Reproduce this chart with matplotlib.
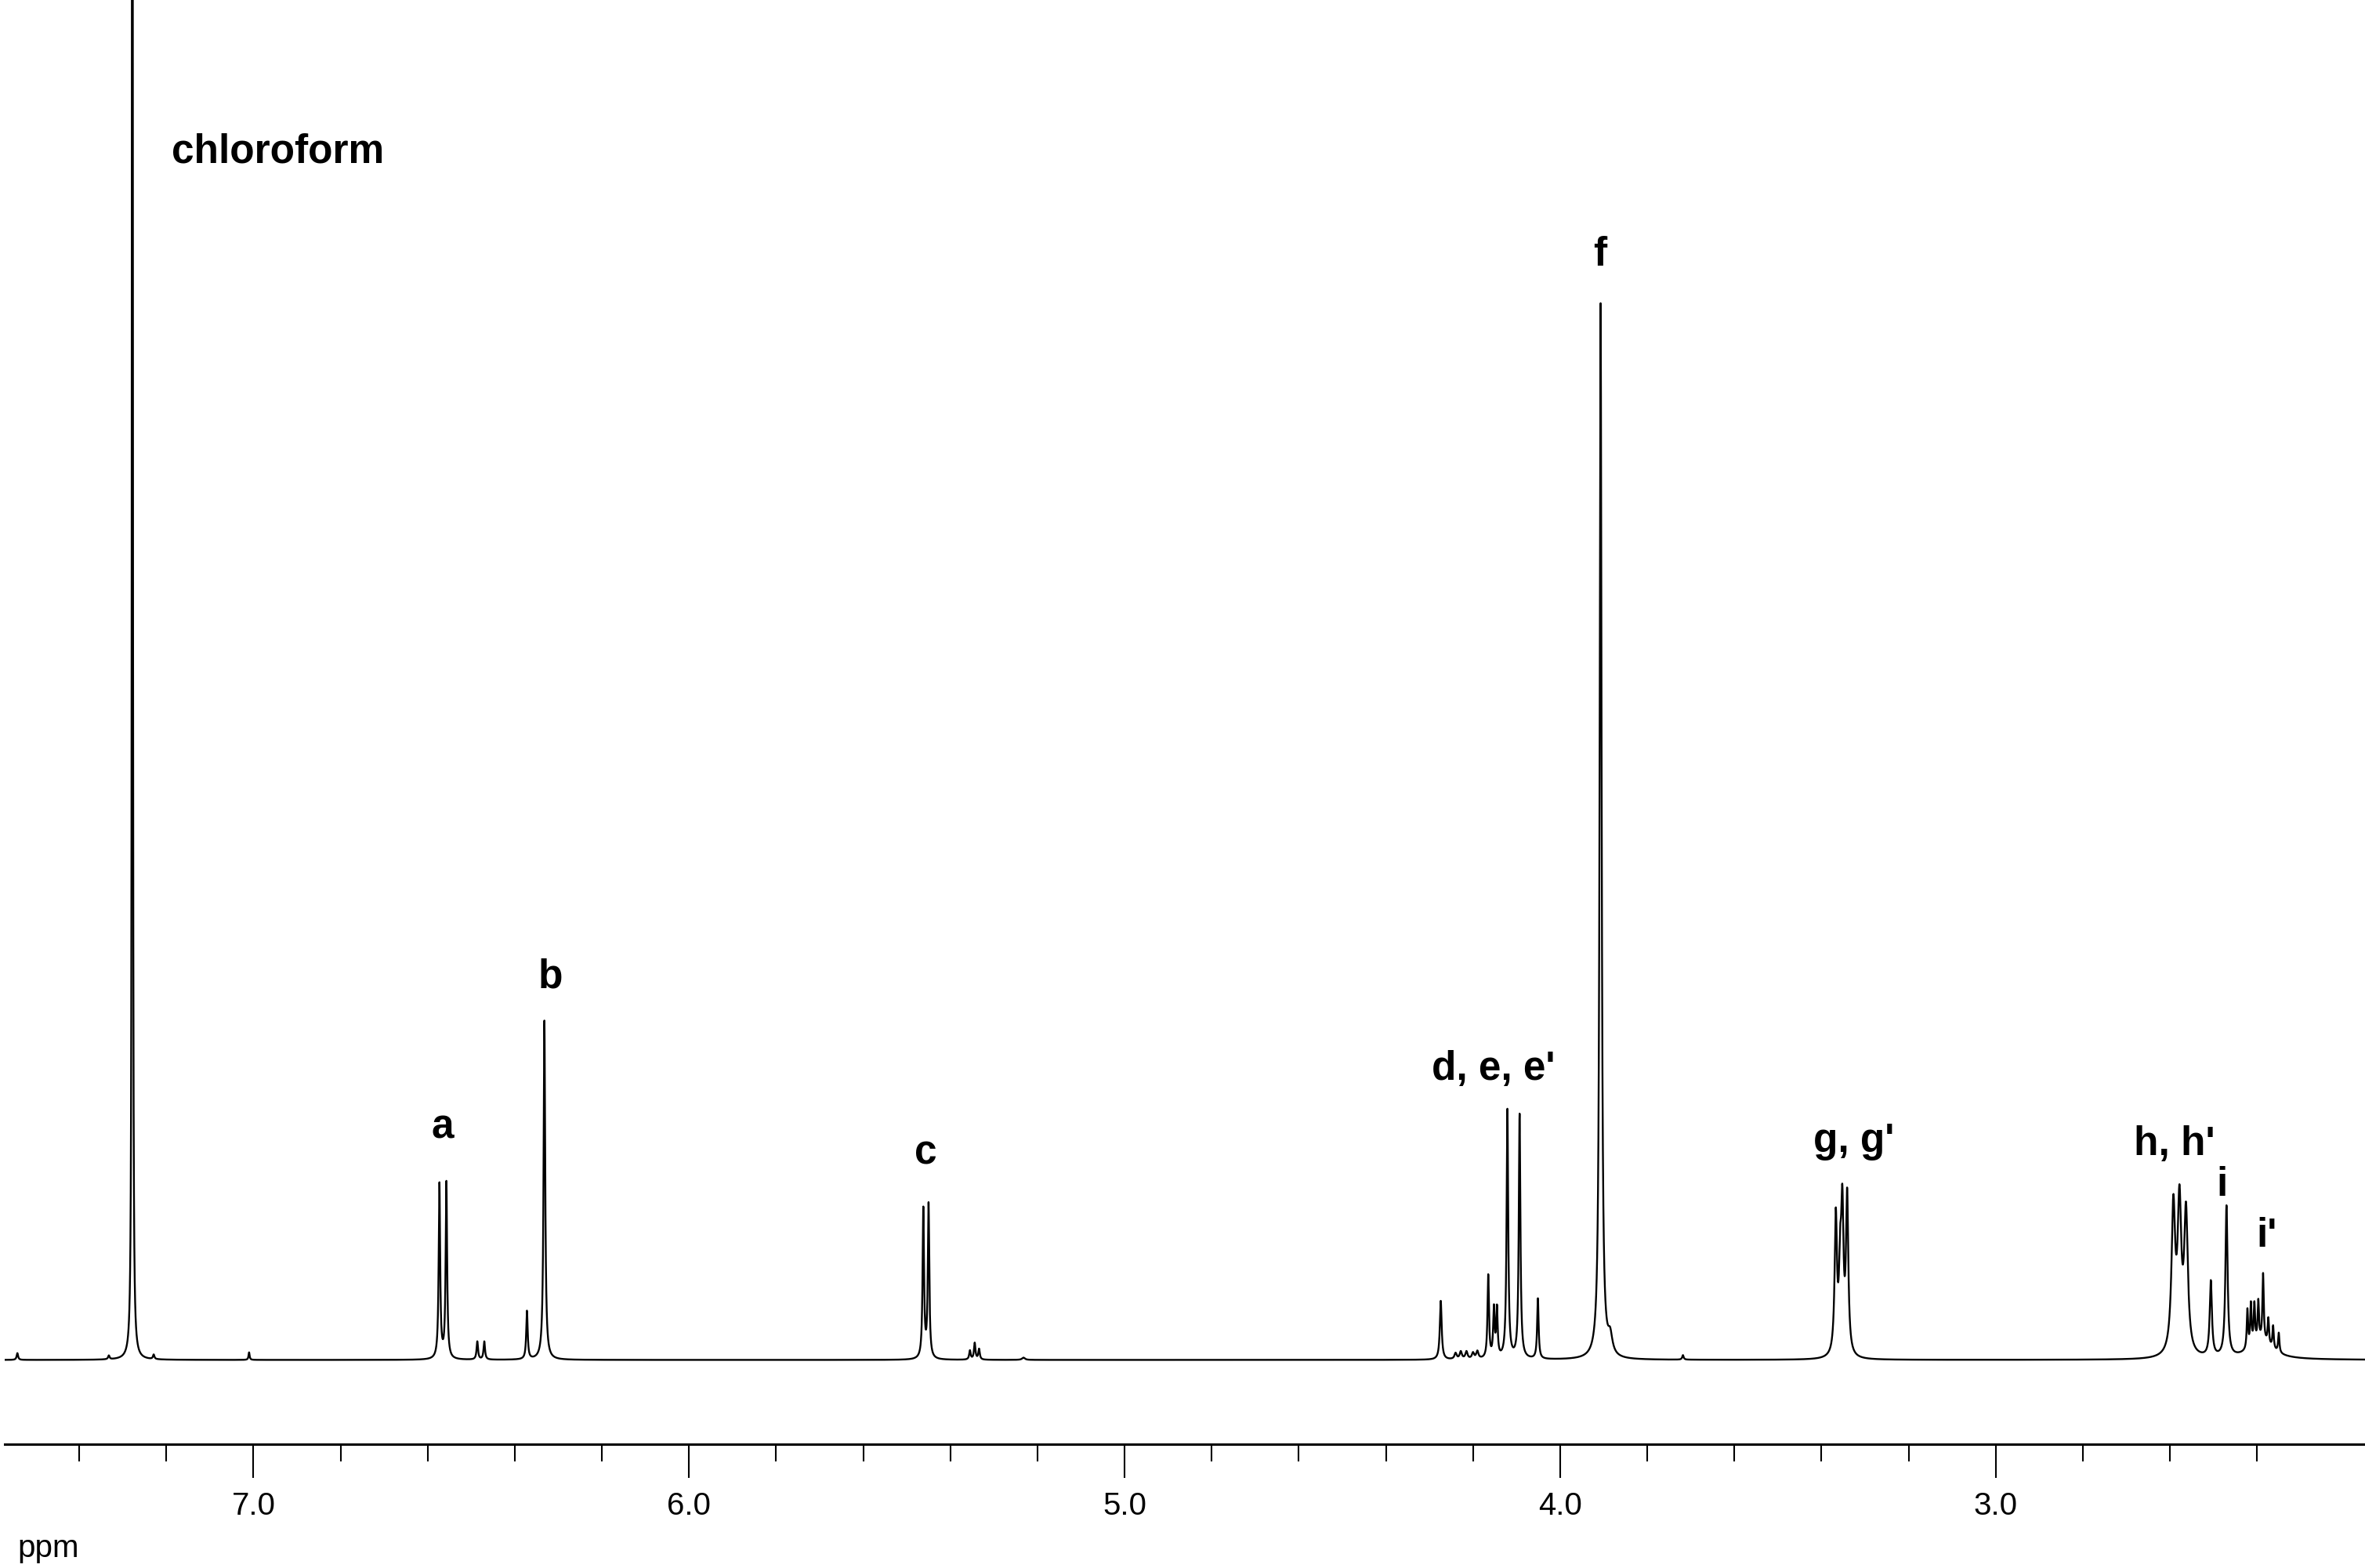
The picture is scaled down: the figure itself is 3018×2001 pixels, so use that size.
import numpy as np
import matplotlib
matplotlib.use("Agg")
import matplotlib.pyplot as plt

plt.rcParams['font.family'] = ['Liberation Sans', 'DejaVu Sans']

# ---------------------- peak table ----------------------
# shift (ppm), height (baseline = 0), half width at half height (ppm)
solvent_ppm = [7.542, 7.332, 7.278, 7.229, 7.010]
solvent_h = [4.5, 2.5, 2500, 3.0, 5.0]
solvent_w = [0.002, 0.002, 0.0008, 0.002, 0.0015]

vinyl_ppm = [6.573, 6.557, 6.486, 6.470, 6.372, 6.332, 5.462, 5.450, 5.355, 5.344, 5.334, 5.232]
vinyl_h = [116, 117, 12, 12, 32, 225, 99, 102, 6, 11, 7, 1.5]
vinyl_w = [0.002, 0.002, 0.002, 0.002, 0.002, 0.0022, 0.002, 0.002, 0.002, 0.002, 0.002, 0.004]

ester_ppm = [4.274, 4.240, 4.228, 4.215, 4.200, 4.190, 4.165, 4.152, 4.145,
             4.121, 4.093, 4.051, 3.907, 3.885, 3.718]
ester_h = [39, 4, 5, 5, 4, 5, 55, 32, 32, 165, 162, 40, 700, 12, 3]
ester_w = [0.0025, 0.003, 0.003, 0.003, 0.003, 0.003, 0.002, 0.002, 0.002,
           0.0022, 0.0022, 0.002, 0.0026, 0.006, 0.002]

alkyl_ppm = [3.367, 3.357, 3.352, 3.341, 2.592, 2.578, 2.563, 2.506, 2.470,
             2.422, 2.414, 2.406, 2.397, 2.386, 2.374, 2.363, 2.350, 2.390]
alkyl_h = [91, 50, 90, 104, 96, 96, 92, 50, 100,
           26, 28, 26, 26, 44, 17, 15, 13, 12]
alkyl_w = [0.0032, 0.0032, 0.0032, 0.0032, 0.005, 0.005, 0.005, 0.003, 0.003,
           0.0018, 0.0018, 0.0018, 0.0018, 0.0018, 0.0018, 0.0018, 0.0018, 0.03]

# labels: text, ppm, height of the text baseline, alignment
label_text = ['chloroform', 'a', 'b', 'c', "d, e, e'", 'f', "g, g'", "h, h'", 'i', "i'"]
label_ppm = [7.187, 6.565, 6.318, 5.456, 4.153, 3.908, 3.326, 2.589, 2.481, 2.377]
label_y = [794, 147, 247, 130, 186, 726, 138, 136, 109, 75]
label_ha = ['left', 'center', 'center', 'center', 'center', 'center', 'center', 'center', 'center', 'center']

major_ticks = [7.0, 6.0, 5.0, 4.0, 3.0]
major_labels = ['7.0', '6.0', '5.0', '4.0', '3.0']


def lorentz(x, x0, h, w):
    return h/(1 + ((x - x0)/w)**2)


#---------------------------- build the trace ---------------------------------
ppm = np.linspace(7.58, 2.15, 60000)
intensity = np.zeros_like(ppm)
for plist, hlist, wlist in [(solvent_ppm, solvent_h, solvent_w),
                            (vinyl_ppm, vinyl_h, vinyl_w),
                            (ester_ppm, ester_h, ester_w),
                            (alkyl_ppm, alkyl_h, alkyl_w)]:
    for p, h, w in zip(plist, hlist, wlist):
        intensity = intensity + lorentz(ppm, p, h, w)

#------------------------------- plot ------------------------------------------
fig = plt.figure(figsize=(30.18, 20.01), dpi=100)
ax = fig.add_axes([0.002, 1 - 958/1040, 0.998, 958/1040])

ax.plot(ppm, intensity, color='black', lw=1.7)

for t, p, y, ha in zip(label_text, label_ppm, label_y, label_ha):
    ax.text(p, y, t, ha=ha, va='baseline', fontsize=37, fontweight='bold')

ax.set_xlim(7.571, 2.152)
ax.set_ylim(-56, 902)

for s in ['left', 'right', 'top']:
    ax.spines[s].set_visible(False)
ax.spines['bottom'].set_linewidth(2.2)
ax.set_yticks([])

ax.set_xticks(major_ticks)
ax.set_xticklabels(major_labels, fontsize=29)
ax.set_xticks(np.arange(2.4, 7.5, 0.2), minor=True)
ax.tick_params(axis='x', which='major', direction='out', length=31, width=1.5, pad=12)
ax.tick_params(axis='x', which='minor', direction='out', length=16, width=1.5)

fig.text(22/3018, 14/2001, 'ppm', fontsize=29, ha='left', va='baseline')

fig.savefig('out.png', dpi=100)
